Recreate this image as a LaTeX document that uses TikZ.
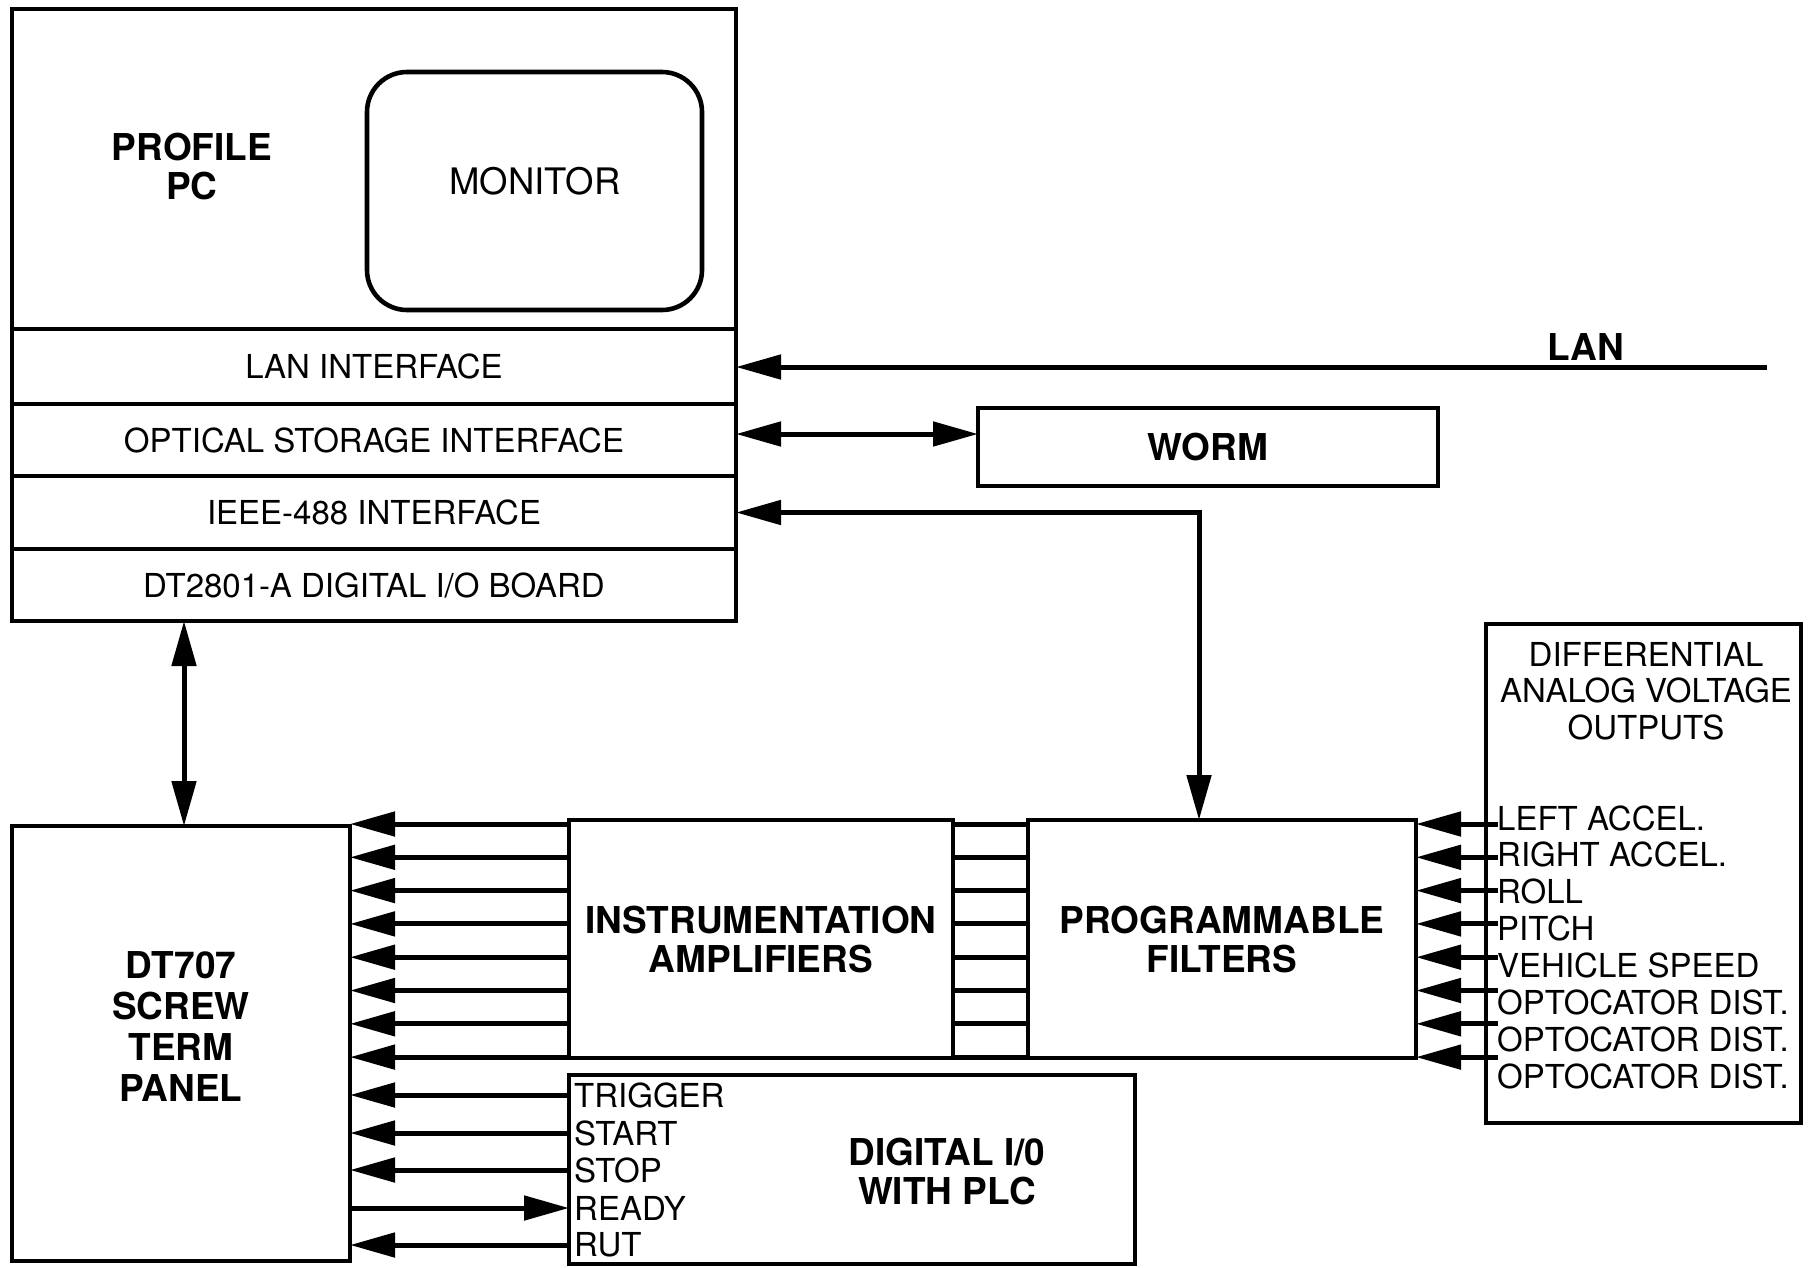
\documentclass[tikz,border=0pt]{standalone}
\usepackage{fontspec}
\setmainfont{TeX Gyre Heros}
\usetikzlibrary{arrows.meta}
\begin{document}
\begin{tikzpicture}[x=1pt,y=-1pt,
  box/.style={draw, line width=4.6pt, inner sep=0pt, outer sep=0pt, rectangle},
  wire/.style={line width=5pt},
  >={Triangle[length=45pt,width=24pt]},
  reg/.style={font=\fontsize{33}{36.5}\selectfont, inner sep=0pt, align=center},
  bld/.style={font=\fontsize{37}{39}\selectfont\bfseries, inner sep=0pt, align=center},
]
\useasboundingbox (0,0) rectangle (1811,1267);

% PROFILE PC
\node[box, minimum width=724pt, minimum height=612pt] (pc) at (374,315) {};
\node[box, minimum width=724pt, minimum height=75pt, reg] (lan) at (374,366.5) {LAN INTERFACE};
\node[box, minimum width=724pt, minimum height=72pt, reg] (opt) at (374,440) {OPTICAL STORAGE INTERFACE};
\node[box, minimum width=724pt, minimum height=73pt, reg] (ieee) at (374,512.5) {IEEE-488 INTERFACE};
\node[box, minimum width=724pt, minimum height=72pt, reg] (brd) at (374,585) {DT2801-A DIGITAL I/O BOARD};
\node[box, rounded corners=40pt, minimum width=335pt, minimum height=238pt] (mon) at (534.5,191) {};
\node[inner sep=0pt, font=\fontsize{36.5}{40}\selectfont] (montext) at (535,181) {MONITOR};
\node[bld] (pctext) at (192,167) {PROFILE\\PC};

% LAN
\node[bld] (lanlabel) at (1586,347) {LAN};
\coordinate (lanend) at (1767,367);
\draw[wire,->] (lanend) -- (lan.east |- lanend);

% WORM
\node[box, minimum width=460pt, minimum height=78pt, bld] (worm) at (1208,447) {WORM};
\coordinate (wy) at (0,434);
\draw[wire,<->] (opt.east |- wy) -- (worm.west |- wy);

% DT707
\node[box, minimum width=338pt, minimum height=435pt] (dt) at (181,1043.5) {};
\node[font=\fontsize{37}{41}\selectfont\bfseries, inner sep=0pt, align=center] (dttext) at (181,1026) {DT707\\SCREW\\TERM\\PANEL};
\coordinate (vx) at (184,0);
\draw[wire,<->] (pc.south -| vx) -- (dt.north -| vx);

% Instrumentation amplifiers and programmable filters
\node[box, minimum width=384pt, minimum height=238pt, bld] (ia) at (761,939) {INSTRUMENTATION\\AMPLIFIERS};
\node[box, minimum width=388pt, minimum height=238pt, bld] (pf) at (1222,939) {PROGRAMMABLE\\FILTERS};
\coordinate (iex) at (1199,0);
\draw[wire,<->] (ieee.east) -| (pf.north -| iex);

% Differential outputs
\node[box, minimum width=315pt, minimum height=499pt] (diff) at (1643.5,873.5) {};
\node[reg] (difftext) at (1646,691) {DIFFERENTIAL\\ANALOG VOLTAGE\\OUTPUTS};
\coordinate (dx) at (1498,0);

\foreach \k in {0,...,7} {
  \coordinate (r\k) at (0,{824+33.3*\k});
}
\foreach \k in {0,...,7} {
  \draw[wire,->] (ia.west |- r\k) -- (dt.east |- r\k);
  \draw[wire] (ia.east |- r\k) -- (pf.west |- r\k);
  \draw[wire,->] (dx |- r\k) -- (pf.east |- r\k);
}
\foreach \t [count=\i from 0] in {LEFT ACCEL., RIGHT ACCEL., ROLL, PITCH, VEHICLE SPEED, OPTOCATOR DIST., OPTOCATOR DIST., OPTOCATOR DIST.} {
  \node[reg, anchor=west] (sig\i) at (1497,{818+36.9*\i}) {\t};
}

% Digital I/O
\node[box, minimum width=566pt, minimum height=189pt] (dig) at (852,1169.5) {};
\node[bld] (digtext) at (947,1171) {DIGITAL I/0\\WITH PLC};
\foreach \t/\y [count=\i] in {TRIGGER/1095, START/1133, STOP/1170, READY/1208, RUT/1245} {
  \node[reg, anchor=west] (dl\i) at (574,\y) {\t};
}
\foreach \i in {1,2,3,5} {
  \draw[wire,->] (dig.west |- dl\i.west) -- (dt.east |- dl\i.west);
}
\draw[wire,->] (dt.east |- dl4.west) -- (dig.west |- dl4.west);
\end{tikzpicture}
\end{document}
